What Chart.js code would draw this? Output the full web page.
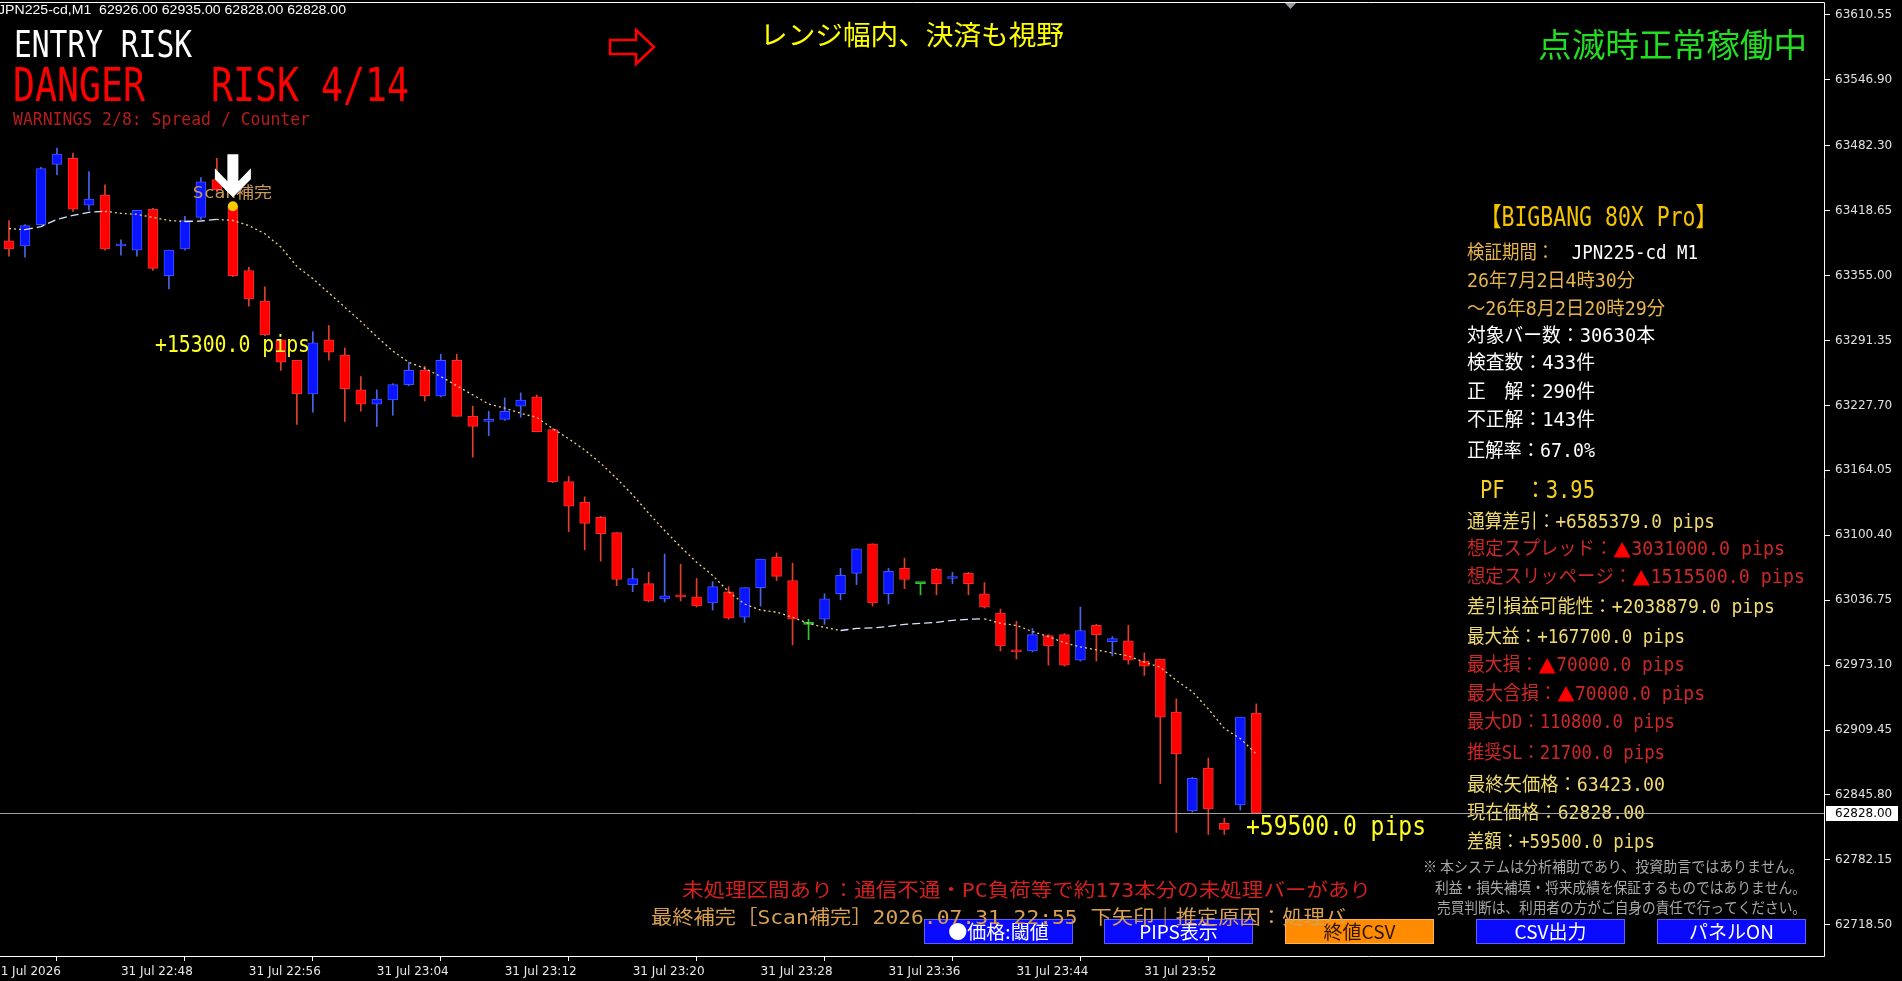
<!DOCTYPE html>
<html>
<head>
<meta charset="utf-8">
<script src="https://cdn.jsdelivr.net/npm/chart.js@4.4.1/dist/chart.umd.min.js"></script>
<style>
  html, body { margin: 0; padding: 0; background: #000; overflow: hidden; }
  #wrap { position: relative; width: 1902px; height: 981px; }
</style>
</head>
<body>
<div id="wrap"><canvas id="chart"></canvas></div>
<script>
// --- data (JPN225-cd, 31 Jul 22:41 .. 23:59) ---
var startTime = '22:41';
var open = [63389,63384,63405,63464,63470,63424,63434,63384,63380,63420,
  63355,63381,63412,63449,63423,63360,63330,63292,63272,63239,
  63292,63277,63243,63229,63233,63248,63262,63237,63272,63217,
  63212,63214,63227,63236,63204,63153,63133,63118,63103,63052,
  63053,63038,63042,63040,63034,63045,63020,63049,63079,63056,
  63013,63018,63043,63063,63092,63043,63068,63053,63067,63058,
  63063,63043,63024,62988,62987,63002,63003,62978,63012,62996,
  62997,62977,62979,62927,62830,62872,62818,62836,62926];
var high = [63409,63405,63461,63480,63475,63457,63444,63390,63419,63421,
  63380,63413,63451,63470,63425,63363,63344,63292,63272,63300,
  63306,63284,63256,63243,63249,63270,63266,63278,63278,63227,
  63222,63235,63240,63238,63205,63158,63138,63119,63103,63068,
  63064,63082,63072,63058,63055,63050,63049,63077,63083,63073,
  63018,63043,63068,63087,63092,63068,63078,63053,63068,63064,
  63064,63054,63028,63016,63009,63003,63004,63030,63013,63001,
  63012,62985,62979,62940,62863,62882,62823,62922,62935];
var low = [63374,63373,63405,63454,63418,63419,63380,63375,63374,63360,
  63342,63380,63410,63437,63354,63325,63296,63262,63209,63221,
  63272,63212,63222,63207,63218,63247,63232,63236,63217,63177,
  63198,63213,63216,63202,63152,63104,63086,63075,63051,63045,
  63035,63035,63036,63030,63027,63018,63015,63031,63056,62993,
  62998,63013,63037,63052,63031,63033,63048,63042,63042,63053,
  63042,63029,62987,62979,62986,62973,62972,62977,62977,62982,
  62974,62963,62857,62809,62829,62807,62807,62831,62828];
var close = [63381,63404,63460,63474,63420,63430,63381,63385,63419,63362,
  63380,63409,63447,63439,63355,63332,63297,63270,63239,63289,
  63280,63244,63229,63234,63248,63262,63237,63272,63217,63207,
  63214,63222,63233,63202,63153,63129,63112,63102,63057,63058,
  63036,63041,63040,63031,63050,63019,63049,63077,63060,63018,
  63013,63038,63061,63087,63034,63065,63057,63053,63053,63059,
  63053,63030,62992,62986,63003,62992,62973,63007,63003,62999,
  62978,62972,62922,62886,62862,62832,62812,62922,62828];
// moving average line as drawn on the chart
var ma = [63401,63400,63403,63410,63414,63417,63418,63416,63415,63412,
  63409,63408,63408.5,63410,63409,63404,63396,63383,63364,63352,
  63338,63324,63310,63295,63281,63270,63264,63256,63247,63238,
  63229,63225,63220,63216,63205,63195,63184,63171,63156,63140,
  63122,63105,63089,63074,63061,63045,63033,63027,63025,63020,
  63014,63010,63007,63009,63009.5,63011,63013,63014,63015,63017,
  63018,63018.5,63014,63012,63006,63001,62995,62991,62988,62985,
  62982,62976,62971,62958,62947,62930,62911,62901,62886];

var yTickLabels = ['63610.55','63546.90','63482.30','63418.65','63355.00','63291.35','63227.70',
  '63164.05','63100.40','63036.75','62973.10','62909.45','62845.80','62782.15','62718.50'];
var xTickTimes = ['22:48','22:56','23:04','23:12','23:20','23:28','23:36','23:44','23:52'];
var firstDateLabel = '31 Jul 2026';
var signalBar = 14;          // down arrow (Scan補完)
var signalPrice = 63423;

// minute labels for every bar
var times = [];
(function () {
  var p = startTime.split(':'), m = (+p[0]) * 60 + (+p[1]);
  for (var i = 0; i < open.length; i++) {
    var t = m + i;
    times.push(Math.floor(t / 60) + ':' + ('0' + (t % 60)).slice(-2));
  }
})();

var BULL = '#0a14ff', BULL_EDGE = '#3c55ff', BULL_WICK = '#4a64e8';
var BEAR = '#ff0000', BEAR_EDGE = '#f03030', BEAR_WICK = '#e0402a';
var DOJI = '#30c830';
var JP = '"Noto Sans CJK JP", "Noto Sans", sans-serif';
var MONO = '"DejaVu Sans Mono", "Noto Sans CJK JP", monospace';

function dir(i) { return close[i] > open[i] ? 1 : (close[i] < open[i] ? -1 : 0); }
function pick(i, up, down) { var d = dir(i); return d > 0 ? up : (d < 0 ? down : DOJI); }

var bodies = open.map(function (o, i) { return { x: i, y: [o, close[i]] }; });
var wicks = low.map(function (l, i) { return { x: i, y: [l, high[i]] }; });
var maPts = ma.map(function (v, i) { return { x: i, y: v }; });

// label drawing, squeezed horizontally to the width seen on the chart
// parts: [text, colour, optional font]
function fitText(ctx, parts, x, y, size, width, font) {
  var f = font || MONO;
  var ws = parts.map(function (p) { ctx.font = size + 'px ' + (p[2] || f); return ctx.measureText(p[0]).width; });
  var total = ws.reduce(function (a, b) { return a + b; }, 0);
  var k = width ? width / total : 1;
  ctx.save();
  ctx.translate(x, y);
  ctx.scale(k, 1);
  var cx = 0;
  parts.forEach(function (p, i) {
    ctx.font = size + 'px ' + (p[2] || f);
    ctx.fillStyle = p[1]; ctx.fillText(p[0], cx, 0); cx += ws[i];
  });
  ctx.restore();
}

var G = '#e6b44c', W = '#ffffff', Y = '#f0da6e', R = '#cc2828', RB = '#ff0000';
var panel = [
  [1480, 219, 26, 237, [['【BIGBANG 80X Pro】', '#f5c400']]],
  [1467, 254, 19, 231, [['検証期間：', G], ['　JPN225-cd M1', W]]],
  [1467, 282, 19, 168, [['26年7月2日4時30分', G]]],
  [1467, 310, 19, 198, [['～26年8月2日20時29分', G]]],
  [1467, 337, 19, 188, [['対象バー数：30630本', W]]],
  [1467, 364, 19, 128, [['検査数：433件', W]]],
  [1467, 393, 19, 128, [['正　解：290件', W]]],
  [1467, 421, 19, 128, [['不正解：143件', W]]],
  [1467, 452, 19, 128, [['正解率：67.0%', W]]],
  [1480, 492, 24, 115, [['PF　：3.95', '#f5d020']]],
  [1467, 523, 19, 248, [['通算差引：+6585379.0 pips', Y]]],
  [1467, 550.5, 19, 318, [['想定スプレッド：', R], ['▲', RB, JP], ['3031000.0 pips', R]]],
  [1467, 578.5, 19, 338, [['想定スリッページ：', R], ['▲', RB, JP], ['1515500.0 pips', R]]],
  [1467, 608.5, 19, 308, [['差引損益可能性：+2038879.0 pips', Y]]],
  [1467, 638.5, 19, 218, [['最大益：+167700.0 pips', Y]]],
  [1467, 666.5, 19, 218, [['最大損：', R], ['▲', RB, JP], ['70000.0 pips', R]]],
  [1467, 695, 19, 238, [['最大含損：', R], ['▲', RB, JP], ['70000.0 pips', R]]],
  [1467, 723.5, 19, 208, [['最大DD：110800.0 pips', R]]],
  [1467, 754.5, 19, 198, [['推奨SL：21700.0 pips', R]]],
  [1467, 786.5, 19, 198, [['最終矢価格：63423.00', Y]]],
  [1467, 814.5, 19, 178, [['現在価格：62828.00', Y]]],
  [1467, 843.5, 19, 188, [['差額：+59500.0 pips', Y]]]
];
var buttons = [
  [924, 149, '●価格:閾値', '#0a0aff', '#ffffff'],
  [1104, 149, 'PIPS表示', '#0a0aff', '#ffffff'],
  [1285, 149, '終値CSV', '#ff8c00', '#2a1600'],
  [1476, 149, 'CSV出力', '#0a0aff', '#ffffff'],
  [1657, 149, 'パネルON', '#0a0aff', '#ffffff']
];

var overlay = {
  id: 'overlay',
  afterDraw: function (chart) {
    var ctx = chart.ctx, a = chart.chartArea, xs = chart.scales.x, ys = chart.scales.y;
    var n = close.length - 1;
    ctx.save();
    ctx.textBaseline = 'middle';
    ctx.textAlign = 'left';

    // header
    var hdr = 'JPN225-cd,M1  ' + [open[n], high[n], low[n], close[n]].map(function (v) { return v.toFixed(2); }).join(' ');
    fitText(ctx, [[hdr, '#ffffff']], -2, 11, 12, 348, '"Liberation Sans", sans-serif');
    fitText(ctx, [['ENTRY RISK', '#ffffff']], 14, 47.5, 38, 178);
    fitText(ctx, [['DANGER   RISK 4/14', '#ff0000']], 13, 89.5, 46, 396);
    fitText(ctx, [['WARNINGS 2/8: Spread / Counter', '#b81c1c']], 13, 120.5, 17, 297);
    fitText(ctx, [['レンジ幅内、決済も視野', '#ffff00']], 760, 35, 27, 304, JP);
    fitText(ctx, [['点滅時正常稼働中', '#22dd22']], 1538, 44, 33, 269, JP);

    // outline arrow ⇨
    ctx.strokeStyle = '#ff0000'; ctx.lineWidth = 2.5;
    ctx.beginPath();
    ctx.moveTo(610, 40); ctx.lineTo(636, 40); ctx.lineTo(636, 30); ctx.lineTo(654, 47);
    ctx.lineTo(636, 64); ctx.lineTo(636, 54); ctx.lineTo(610, 54); ctx.closePath();
    ctx.stroke();
    // shift marker
    ctx.fillStyle = '#9a9aa0';
    ctx.beginPath(); ctx.moveTo(1284, 2); ctx.lineTo(1297, 2); ctx.lineTo(1290.5, 9); ctx.closePath(); ctx.fill();

    // info panel
    panel.forEach(function (l) { fitText(ctx, l[4], l[0], l[1], l[2], l[3]); });

    // signal marker
    var sx = xs.getPixelForValue(signalBar), sy = ys.getPixelForValue(signalPrice);
    fitText(ctx, [['Scan補完', '#c89a5a']], sx - 40, sy - 12, 16, 79);
    var tipY = sy - 9;
    ctx.fillStyle = '#ffffff';
    ctx.beginPath();
    [[-5.5, -43], [5.5, -43], [5.5, -16], [18, -29], [18, -18], [0, 0], [-18, -18], [-18, -29], [-5.5, -16]]
      .forEach(function (p, i) { ctx[i ? 'lineTo' : 'moveTo'](sx + p[0], tipY + p[1]); });
    ctx.closePath(); ctx.fill();
    ctx.fillStyle = '#ffcc00';
    ctx.beginPath(); ctx.arc(sx, sy, 5, 0, Math.PI * 2); ctx.fill();

    fitText(ctx, [['+15300.0 pips', '#ffff20']], 155, 346.5, 23, 155);
    fitText(ctx, [['+59500.0 pips', '#ffff20']], 1246, 828, 27, 180);

    // notes at the bottom
    fitText(ctx, [['※ 本システムは分析補助であり、投資助言ではありません。', '#a8a8a8']], 1423, 866, 15, 380, JP);
    fitText(ctx, [['利益・損失補填・将来成績を保証するものではありません。', '#a8a8a8']], 1435, 887, 15, 371, JP);
    fitText(ctx, [['売買判断は、利用者の方がご自身の責任で行ってください。', '#a8a8a8']], 1437, 907, 15, 369, JP);
    fitText(ctx, [['未処理区間あり：通信不通・PC負荷等で約173本分の未処理バーがあり', '#d42020']], 682, 892, 19, 689);

    buttons.forEach(function (b) {
      ctx.fillStyle = b[3];
      ctx.fillRect(b[0], 919, b[1], 25);
      ctx.strokeStyle = 'rgba(255,255,255,0.35)'; ctx.lineWidth = 1;
      ctx.strokeRect(b[0] + 0.5, 919.5, b[1] - 1, 24);
      ctx.textAlign = 'center';
      ctx.font = '19px ' + JP;
      ctx.fillStyle = b[4];
      ctx.fillText(b[2], b[0] + b[1] / 2, 931.5);
      ctx.textAlign = 'left';
    });
    fitText(ctx, [['最終補完［Scan補完］2026.07.31 22:55 下矢印｜推定原因：処理バ', '#d8a050']], 651, 919, 19, 695);

    // bid line
    var cy = Math.round(ys.getPixelForValue(close[n])) + 0.5;
    ctx.strokeStyle = '#a0a0a0'; ctx.lineWidth = 1;
    ctx.beginPath(); ctx.moveTo(a.left, cy); ctx.lineTo(a.right, cy); ctx.stroke();

    // frame (top, right, bottom)
    ctx.strokeStyle = '#ffffff';
    ctx.beginPath();
    ctx.moveTo(a.left, a.top + 0.5); ctx.lineTo(a.right - 0.5, a.top + 0.5);
    ctx.lineTo(a.right - 0.5, a.bottom - 0.5); ctx.lineTo(a.left, a.bottom - 0.5);
    ctx.stroke();

    // price tag on axis
    ctx.fillStyle = '#ffffff';
    ctx.fillRect(a.right + 1, cy - 7.5, 72, 15);
    ctx.fillStyle = '#000000';
    ctx.font = '12px "DejaVu Sans", sans-serif';
    ctx.fillText(close[n].toFixed(2), a.right + 10, cy + 0.5);
    ctx.restore();
  }
};

// x ticks: bar index -> label, kept in ascending order
var xTicks = [{ value: times.indexOf(xTickTimes[0]) - 8, label: firstDateLabel }];
xTickTimes.forEach(function (t) { xTicks.push({ value: times.indexOf(t), label: '31 Jul ' + t }); });

new Chart(document.getElementById('chart'), {
  type: 'bar',
  data: {
    datasets: [
      {
        type: 'line', data: maPts, order: 0,
        borderWidth: 1.3, pointRadius: 0, tension: 0,
        segment: {
          borderColor: function (c) { return c.p1.parsed.y > c.p0.parsed.y ? '#d8e4ff' : '#f5cf80'; },
          borderDash: function (c) { return c.p1.parsed.y > c.p0.parsed.y ? [8, 4] : [2, 3]; }
        }
      },
      {
        data: bodies, order: 1, grouped: false,
        barThickness: 10, minBarLength: 2, borderWidth: 1, borderSkipped: false,
        backgroundColor: function (c) { return pick(c.dataIndex, BULL, BEAR); },
        borderColor: function (c) { return pick(c.dataIndex, BULL_EDGE, BEAR_EDGE); }
      },
      {
        data: wicks, order: 2, grouped: false,
        barThickness: 1, borderWidth: 0,
        backgroundColor: function (c) { return pick(c.dataIndex, BULL_WICK, BEAR_WICK); }
      }
    ]
  },
  options: {
    responsive: true,
    maintainAspectRatio: false,
    devicePixelRatio: 1,
    animation: false,
    layout: { padding: { top: 2, left: 0, right: 0, bottom: 0 } },
    plugins: { legend: { display: false }, tooltip: { enabled: false } },
    scales: {
      x: {
        type: 'linear', offset: false, min: -0.5625, max: 113.5625,
        grid: { drawOnChartArea: false, tickLength: 4, color: '#ffffff' },
        border: { display: false },
        afterBuildTicks: function (s) {
          s.ticks = xTicks.map(function (t) { return { value: t.value }; });
        },
        afterFit: function (s) { s.height = 24; s.paddingLeft = 0; s.paddingRight = 0; },
        ticks: {
          autoSkip: false, maxRotation: 0, align: 'start', padding: 4,
          color: '#e8e8e8', font: { family: 'DejaVu Sans', size: 12 },
          callback: function (v) {
            var t = xTicks.filter(function (k) { return k.value === v; })[0];
            return t ? t.label : '';
          }
        }
      },
      y: {
        position: 'right', min: 62686.9, max: 63623.2,
        grid: { drawOnChartArea: false, tickLength: 5, color: '#ffffff' },
        border: { display: false },
        afterBuildTicks: function (s) {
          s.ticks = yTickLabels.map(function (t) { return { value: parseFloat(t) }; });
        },
        afterFit: function (s) { s.width = 77; s.paddingTop = 0; s.paddingBottom = 0; },
        ticks: {
          autoSkip: false, padding: 5, color: '#e0e0e0',
          font: { family: 'DejaVu Sans', size: 12 },
          callback: function (v) { return v.toFixed(2); }
        }
      }
    }
  },
  plugins: [overlay]
});
</script>
</body>
</html>
